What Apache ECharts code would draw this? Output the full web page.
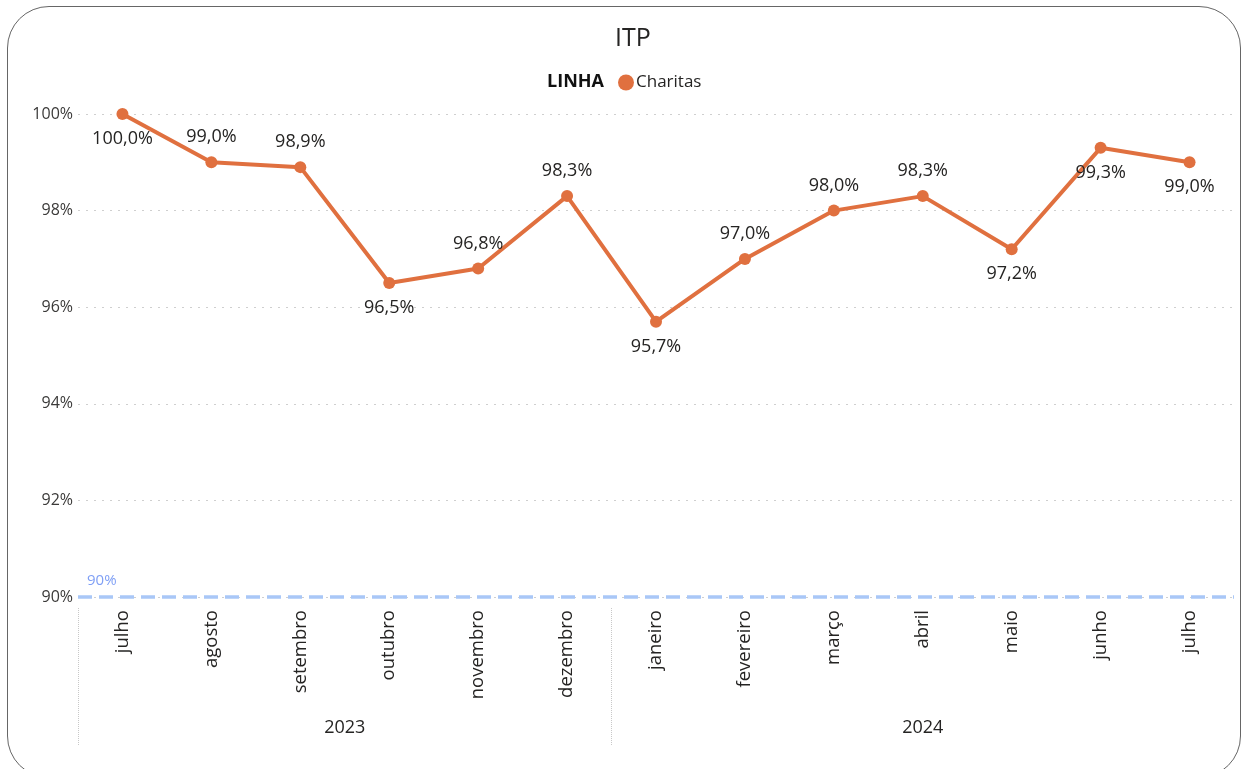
<!DOCTYPE html>
<html>
<head>
<meta charset="utf-8">
<script src="https://cdn.jsdelivr.net/npm/echarts@6/dist/echarts.min.js"></script>
<style>
  html, body { margin: 0; padding: 0; background: #fff; }
  #frame {
    position: absolute; left: 7px; top: 6px; width: 1234px; height: 772px;
    border: 1.5px solid #666; border-radius: 42px; box-sizing: border-box;
  }
  #chart-container { position: absolute; left: 0; top: 0; width: 1242px; height: 769px; }
</style>
</head>
<body>
<div id="frame"></div>
<div id="chart-container"></div>
<script>
var months = ["julho", "agosto", "setembro", "outubro", "novembro", "dezembro",
  "janeiro", "fevereiro", "março", "abril", "maio", "junho", "julho"];
var charitas = [100.0, 99.0, 98.9, 96.5, 96.8, 98.3, 95.7, 97.0, 98.0, 98.3, 97.2, 99.3, 99.0];
var years = ["2023", "2024"];
var monthsPerYear = [6, 7];
var target = 90;
var yTicks = [90, 92, 94, 96, 98, 100];
// where each data label sits relative to its point
var labelPlace = ["bottom", "top", "top", "bottom", "top", "top", "bottom",
  "top", "top", "top", "bottom", "bottom", "bottom"];

var font = "'Segoe UI', 'Open Sans', sans-serif";

// year axis: half-month slots so each year label sits in the middle of its months
var yearSlots = [];
var yearBreaks = [0];
var pos = 0;
for (var i = 0; i <= months.length * 2; i++) yearSlots.push("");
for (var y = 0; y < years.length; y++) {
  yearSlots[pos + monthsPerYear[y]] = years[y];
  pos += monthsPerYear[y] * 2;
  if (y < years.length - 1) yearBreaks.push(pos);
}

var dom = document.getElementById("chart-container");
var myChart = echarts.init(dom, null, { renderer: "canvas" });

var option = {
  textStyle: { fontFamily: font },
  title: [
    {
      text: "ITP", left: 610, top: 21,
      textStyle: { fontSize: 25, fontWeight: "normal", color: "#252423", fontFamily: font }
    },
    {
      text: "LINHA", left: 542, top: 68,
      textStyle: { fontSize: 18, fontWeight: "bold", color: "#111", fontFamily: font }
    }
  ],
  legend: {
    left: 613, top: 69,
    icon: "circle", itemWidth: 16, itemHeight: 16, itemGap: 4,
    textStyle: { fontSize: 17, color: "#252423", fontFamily: font, padding: [0, 0, 0, -3] },
    data: ["Charitas"]
  },
  grid: { left: 78, right: 8, top: 114, bottom: 172 },
  xAxis: [
    {
      type: "category",
      data: months,
      boundaryGap: true,
      axisLine: { show: false },
      axisTick: { show: false },
      axisLabel: { rotate: 90, interval: 0, margin: 13, fontSize: 18.5, color: "#252423" }
    },
    {
      type: "category",
      data: yearSlots,
      boundaryGap: false,
      position: "bottom",
      offset: 148,
      axisLine: { show: false },
      axisTick: {
        show: true, inside: true, length: 138,
        interval: function (idx) { return yearBreaks.indexOf(idx) >= 0; },
        lineStyle: { color: "#c8c8c8", type: "dotted", width: 1 }
      },
      axisLabel: { inside: true, interval: 0, margin: 8, fontSize: 18, color: "#252423" }
    }
  ],
  yAxis: {
    type: "value",
    min: yTicks[0], max: yTicks[yTicks.length - 1], interval: 2,
    axisLine: { show: false },
    axisTick: { show: false },
    axisLabel: { formatter: "{value}%", fontSize: 16, color: "#3b3a39", margin: 5 },
    splitLine: { lineStyle: { color: "#cfcfcf", type: [2, 6], width: 1 } }
  },
  series: [
    {
      name: "Charitas",
      type: "line",
      xAxisIndex: 0,
      data: charitas.map(function (v, i) {
        return { value: v, label: { position: labelPlace[i] } };
      }),
      symbol: "circle",
      symbolSize: 12,
      lineStyle: { color: "#E0703F", width: 4 },
      itemStyle: { color: "#E0703F" },
      label: {
        show: true, distance: 10, fontSize: 18, color: "#252423",
        formatter: function (p) { return p.value.toFixed(1).replace(".", ",") + "%"; }
      },
      markLine: {
        silent: true,
        symbol: "none",
        data: [{ yAxis: target }],
        lineStyle: { color: "#A9C7F7", type: "dashed", width: 3.5 },
        label: {
          show: true, position: "insideStartTop", distance: [9, 9],
          formatter: target + "%", fontSize: 15, color: "#7F9FF5"
        }
      }
    }
  ]
};

myChart.setOption(option);
window.addEventListener("resize", myChart.resize);
</script>
</body>
</html>
